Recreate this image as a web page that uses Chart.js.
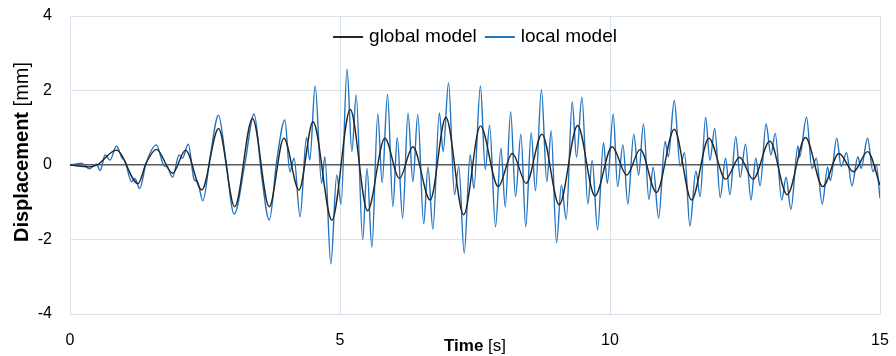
<!DOCTYPE html>
<html>
<head>
<meta charset="utf-8">
<script src="https://cdn.jsdelivr.net/npm/chart.js@4.4.1/dist/chart.umd.min.js"></script>
<style>
  html, body { margin: 0; padding: 0; background: #fff; }
  #wrap { width: 896px; height: 356px; }
</style>
</head>
<body>
<div id="wrap"><canvas id="chart" width="896" height="356"></canvas></div>
<script>
const FONT = '"Liberation Sans", Arial, sans-serif';

// global model (black) - time [s] / displacement [mm]
const globalTime = [
  0, 0.36, 0.5, 0.86, 1.26, 1.41, 1.6, 1.9, 2.14, 2.44, 2.75, 3.05, 3.38, 3.69,
  3.96, 4.24, 4.5, 4.85, 5.19, 5.51, 5.83, 6.1, 6.35, 6.67, 6.96, 7.29, 7.6,
  7.93, 8.19, 8.45, 8.74, 9.06, 9.4, 9.72, 10.04, 10.31, 10.56, 10.86, 11.19,
  11.51, 11.83, 12.14, 12.4, 12.65, 12.96, 13.28, 13.62, 13.94, 14.24, 14.51,
  14.77, 15
];
const globalDisp = [
  0, -0.05, 0, 0.4, -0.5, 0.05, 0.42, -0.22, 0.4, -0.67, 0.98, -1.12, 1.25, -1.12,
  0.72, -0.67, 1.16, -1.48, 1.49, -1.23, 0.72, -0.36, 0.49, -0.94, 1.28, -1.34, 1.05,
  -0.58, 0.31, -0.49, 0.83, -1.07, 1.06, -0.83, 0.49, -0.27, 0.42, -0.74, 0.96,
  -0.94, 0.72, -0.38, 0.21, -0.38, 0.64, -0.8, 0.74, -0.58, 0.31, -0.18,
  0.36, -0.54
];

// local model (blue)
const localTime = [
  0, 0.1, 0.21, 0.36, 0.49, 0.56, 0.65, 0.74, 0.86, 0.96, 1.02, 1.14, 1.2, 1.29,
  1.41, 1.6, 1.74, 1.8, 1.9, 2.02, 2.08, 2.19, 2.3, 2.36, 2.46, 2.6, 2.75, 2.88,
  3.04, 3.24, 3.41, 3.55, 3.69, 3.83, 3.98, 4.07, 4.15, 4.26, 4.38, 4.44, 4.54,
  4.66, 4.72, 4.83, 4.94, 5.02, 5.13, 5.22, 5.3, 5.42, 5.5, 5.59, 5.7, 5.78, 5.88,
  5.98, 6.06, 6.16, 6.26, 6.35, 6.44, 6.55, 6.63, 6.72, 6.84, 6.91, 7.01, 7.12,
  7.2, 7.3, 7.41, 7.48, 7.6, 7.69, 7.77, 7.88, 7.98, 8.06, 8.16, 8.25, 8.35, 8.44,
  8.54, 8.62, 8.73, 8.83, 8.91, 9.01, 9.1, 9.19, 9.3, 9.38, 9.48, 9.59, 9.67, 9.77,
  9.88, 9.95, 10.06, 10.14, 10.24, 10.33, 10.44, 10.53, 10.62, 10.72, 10.8, 10.9,
  11.02, 11.08, 11.19, 11.3, 11.38, 11.48, 11.59, 11.67, 11.77, 11.85, 11.94,
  12.04, 12.14, 12.22, 12.33, 12.41, 12.51, 12.61, 12.7, 12.78, 12.89, 12.98,
  13.06, 13.18, 13.26, 13.35, 13.48, 13.51, 13.64, 13.74, 13.82, 13.93, 14.03,
  14.08, 14.2, 14.28, 14.38, 14.48, 14.59, 14.65, 14.77, 14.87, 14.93, 15
];
const localDisp = [
  0, 0.02, 0.05, -0.1, 0.03, -0.15, 0.27, 0.13, 0.51, 0.2, 0.1, -0.45, -0.36, -0.63,
  0.05, 0.54, -0.02, -0.05, -0.33, 0.27, 0.18, 0.56, -0.4, -0.45, -0.96, 0.27, 1.34, 0.2,
  -1.32, 0.05, 1.37, -0.31, -1.48, 0.13, 1.21, -0.18, 0.18, -1.39, 0.74, 0.13, 2.12,
  -0.49, 0.22, -2.66, -0.27, -1.05, 2.57, 0.36, 1.88, -2.0, -0.09, -2.21, 1.37, -0.47, 1.9,
  -1.12, 0.74, -1.43, 1.39, -0.45, 1.36, -1.58, -0.06, -1.72, 1.4, 0.36, 2.21, -0.8,
  -0.03, -2.37, 0.27, -0.63, 2.12, -0.12, 1.07, -1.66, 0.45, -1.12, 1.43, -0.85, 0.83, -1.66,
  0.87, -0.69, 2.03, -0.45, 0.92, -2.09, -0.54, -1.46, 1.7, 0.21, 1.82, -1.05, 0.12, -1.74,
  0.6, -0.49, 1.37, -0.58, 0.54, -1.05, 0.83, -0.27, 1.1, -0.92, -0.06, -1.43,
  0.63, 0.22, 1.73, -0.03, 0.33, -1.64, -0.16, -0.85, 1.28, 0.13, 0.98,
  -0.87, 0.18, -0.8, 0.76, -0.33, 0.56, -0.94, 0.18, -0.56, 1.1, 0.27,
  0.85, -0.94, -0.33, -1.19, 0.51, 0.21, 1.28, -0.09, 0.18, -1.05, -0.06,
  -0.42, 0.72, -0.04, 0.33, -0.56, 0.22, -0.09, 0.72, -0.18, 0.0, -0.89
];

const yTicks = [-4, -2, 0, 2, 4];
const xTicks = [0, 5, 10, 15];

const toPoints = (xs, ys) => xs.map((x, i) => ({ x, y: ys[i] }));

function drawMixed(ctx, boldPart, normalPart, cx, cy, size) {
  ctx.font = `bold ${size}px ${FONT}`;
  const w1 = ctx.measureText(boldPart).width;
  ctx.font = `${size}px ${FONT}`;
  const w2 = ctx.measureText(normalPart).width;
  const x = cx - (w1 + w2) / 2;
  ctx.textAlign = "left";
  ctx.font = `bold ${size}px ${FONT}`;
  ctx.fillText(boldPart, x, cy);
  ctx.font = `${size}px ${FONT}`;
  ctx.fillText(normalPart, x + w1, cy);
}

// axis titles (bold name + normal unit) and the legend inside the plot
const decorations = {
  id: "decorations",
  afterDraw(chart) {
    const { ctx, chartArea } = chart;
    const mid = (chartArea.left + chartArea.right) / 2;
    ctx.save();
    ctx.fillStyle = "#000";
    ctx.textBaseline = "middle";
    drawMixed(ctx, "Time", " [s]", mid, 346, 17);

    // legend
    const size = 19, lineLen = 30, gap = 6, itemGap = 8, y = 37;
    ctx.font = `${size}px ${FONT}`;
    const items = chart.data.datasets.map((ds) => ({
      label: ds.label, color: ds.borderColor, w: ctx.measureText(ds.label).width
    }));
    const total = items.reduce((s, it) => s + lineLen + gap + it.w, 0) + itemGap * (items.length - 1);
    let x = mid - total / 2;
    items.forEach((it) => {
      ctx.strokeStyle = it.color;
      ctx.lineWidth = 2;
      ctx.beginPath();
      ctx.moveTo(x, y);
      ctx.lineTo(x + lineLen, y);
      ctx.stroke();
      x += lineLen + gap;
      ctx.fillStyle = "#000";
      ctx.textAlign = "left";
      ctx.fillText(it.label, x, y);
      x += it.w + itemGap;
    });

    ctx.translate(22, 152);
    ctx.rotate(-Math.PI / 2);
    drawMixed(ctx, "Displacement", " [mm]", 0, 0, 20);
    ctx.restore();
  }
};

const ctx = document.getElementById("chart").getContext("2d");
new Chart(ctx, {
  type: "line",
  data: {
    datasets: [
      {
        label: "global model",
        data: toPoints(globalTime, globalDisp),
        borderColor: "#262626",
        borderWidth: 1.4,
        pointRadius: 0,
        cubicInterpolationMode: "monotone",
        order: 0
      },
      {
        label: "local model",
        data: toPoints(localTime, localDisp),
        borderColor: "#2273c0",
        borderWidth: 1.4,
        pointRadius: 0,
        cubicInterpolationMode: "monotone",
        order: 1
      }
    ]
  },
  options: {
    responsive: false,
    animation: false,
    layout: { padding: { top: 16, right: 16, left: 0, bottom: 0 } },
    plugins: {
      tooltip: { enabled: false },
      legend: { display: false }
    },
    scales: {
      x: {
        type: "linear",
        min: 0,
        max: 15,
        afterBuildTicks: (axis) => { axis.ticks = xTicks.map((v) => ({ value: v })); },
        afterFit: (axis) => {
          axis.height = 42;
          axis.paddingLeft = 0;
          axis.paddingRight = 0;
        },
        border: { color: "#d9e1ea" },
        grid: { color: "#d9e1ea", drawTicks: false },
        ticks: { padding: 17, color: "#000", font: { family: FONT, size: 16 } }
      },
      y: {
        min: -4,
        max: 4,
        afterBuildTicks: (axis) => { axis.ticks = yTicks.map((v) => ({ value: v })); },
        afterFit: (axis) => {
          axis.width = 70;
          axis.paddingTop = 0;
          axis.paddingBottom = 0;
        },
        border: { color: "#d9e1ea" },
        grid: {
          drawTicks: false,
          color: (c) => (c.tick && c.tick.value === 0 ? "#595959" : "#d9e1ea"),
          lineWidth: (c) => (c.tick && c.tick.value === 0 ? 1.5 : 1)
        },
        ticks: { padding: 18, color: "#000", font: { family: FONT, size: 16 } }
      }
    }
  },
  plugins: [decorations]
});
</script>
</body>
</html>
